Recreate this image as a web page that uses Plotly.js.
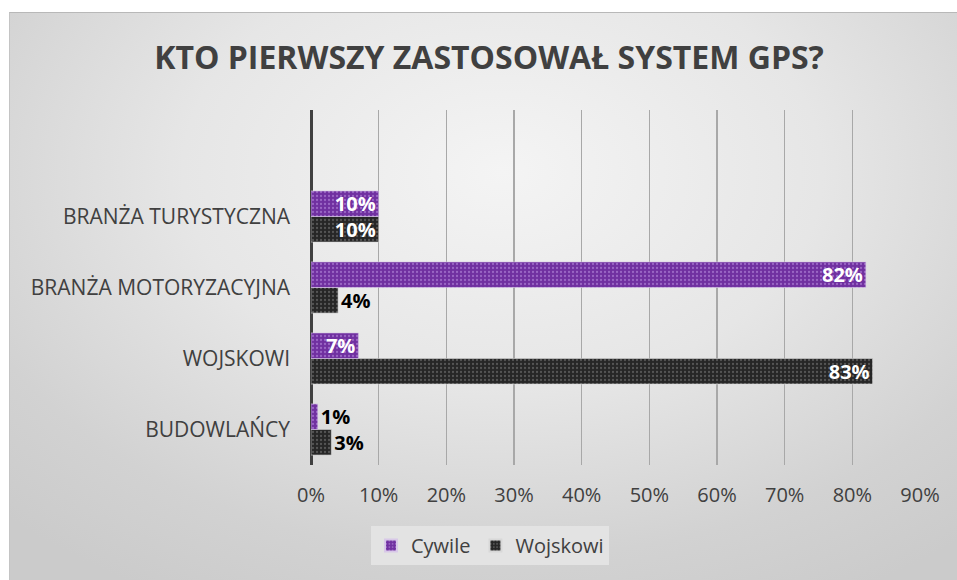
<!DOCTYPE html>
<html>
<head>
<meta charset="utf-8">
<script src="https://cdn.plot.ly/plotly-3.0.1.min.js"></script>
<style>
  html, body { margin: 0; padding: 0; background: #ffffff; }
  #frame {
    position: absolute; left: 9px; top: 12px; width: 948px; height: 568px;
    border-top: 1px solid #b8b8b8; border-left: 1px solid #c4c4c4;
    box-sizing: border-box;
    background: radial-gradient(ellipse 75% 85% at 52% 28%, #f4f4f4 0%, #e6e6e6 45%, #d2d2d2 80%, #cbcbcb 100%);
  }
  #chart { position: absolute; left: 0; top: 0; width: 957px; height: 580px; }
</style>
</head>
<body>
<div id="frame"></div>
<div id="chart"></div>
<script>
const categories = ['BUDOWLAŃCY', 'WOJSKOWI', 'BRANŻA MOTORYZACYJNA', 'BRANŻA TURYSTYCZNA'];
const cywile = [1, 7, 82, 10];
const wojskowi = [3, 83, 4, 10];
const xTickVals = [0, 10, 20, 30, 40, 50, 60, 70, 80, 90];
const xTickText = ['0%', '10%', '20%', '30%', '40%', '50%', '60%', '70%', '80%', '90%'];

const labelFont = { family: 'Open Sans, sans-serif', size: 20, color: '#404040' };
const catFont = { family: 'Open Sans, sans-serif', size: 21, color: '#404040' };
const inFont = { family: 'Open Sans, sans-serif', size: 20, color: '#ffffff', weight: 'bold' };
const outFont = { family: 'Open Sans, sans-serif', size: 20, color: '#000000', weight: 'bold' };

const traces = [
  {
    type: 'bar', orientation: 'h', name: 'Wojskowi',
    y: categories, x: wojskowi,
    text: wojskowi.map(v => v + '%'), textposition: 'auto', constraintext: 'none',
    insidetextanchor: 'end', insidetextfont: inFont, outsidetextfont: outFont,
    marker: { color: '#2a2a2a', line: { color: '#d8d8d8', width: 0.6 },
              pattern: { shape: '.', fgcolor: '#555555', bgcolor: '#262626', size: 4, solidity: 0.25 } },
    hoverinfo: 'x+y'
  },
  {
    type: 'bar', orientation: 'h', name: 'Cywile',
    y: categories, x: cywile,
    text: cywile.map(v => v + '%'), textposition: 'auto', constraintext: 'none',
    insidetextanchor: 'end', insidetextfont: inFont, outsidetextfont: outFont,
    marker: { color: '#7030a0', line: { color: '#d8c8e8', width: 0.6 },
              pattern: { shape: '.', fgcolor: '#9a66c4', bgcolor: '#7030a0', size: 4, solidity: 0.25 } },
    hoverinfo: 'x+y'
  }
];

const layout = {
  width: 957, height: 580,
  paper_bgcolor: 'rgba(0,0,0,0)', plot_bgcolor: 'rgba(0,0,0,0)',
  margin: { l: 311, r: 37, t: 110, b: 115, pad: 0 },
  barmode: 'group', bargap: 0.28, bargroupgap: 0,
  title: {
    text: '<b>KTO PIERWSZY ZASTOSOWAŁ SYSTEM GPS?</b>',
    font: { family: 'Open Sans, sans-serif', size: 32, color: '#404040' },
    x: 0.511, xanchor: 'center', xref: 'container',
    y: 0.9, yanchor: 'middle', yref: 'container'
  },
  xaxis: {
    range: [0, 90], tickvals: xTickVals, ticktext: xTickText,
    showgrid: true, gridcolor: '#a8a8a8', gridwidth: 1.5,
    zeroline: true, zerolinecolor: '#404040', zerolinewidth: 3,
    showline: false, ticks: '', tickfont: labelFont, ticklabelstandoff: 16,
    fixedrange: true
  },
  yaxis: {
    type: 'category', categoryorder: 'array', categoryarray: categories,
    range: [-0.5, 4.5],
    showgrid: false, zeroline: false, showline: false, ticks: '',
    tickfont: catFont, ticklabelstandoff: 20, fixedrange: true
  },
  showlegend: true,
  legend: {
    orientation: 'h', traceorder: 'reversed',
    xref: 'container', yref: 'container',
    x: 0.512, xanchor: 'center', y: 0.093, yanchor: 'top',
    bgcolor: '#e3e3e3', borderwidth: 0,
    font: labelFont, itemsizing: 'constant', itemwidth: 30
  },
  font: { family: 'Open Sans, sans-serif', color: '#404040' }
};

Plotly.newPlot('chart', traces, layout, { displayModeBar: false, staticPlot: true });
</script>
</body>
</html>
